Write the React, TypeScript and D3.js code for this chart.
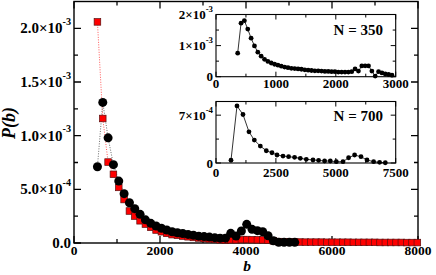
import React from "react";
import * as d3 from "d3";

// main panel: P(b) for the two series (values in units of 1e-4)
const redB = [545, 669, 793, 917, 1041, 1165, 1289, 1413, 1537, 1661, 1785, 1909, 2033, 2157, 2281, 2405, 2529, 2653, 2777, 2901, 3025, 3149, 3273, 3397, 3521, 3645, 3769, 3893, 4017, 4141, 4265, 4389, 4513, 4637, 4761, 4885, 5009, 5133, 5257, 5381, 5505, 5629, 5753, 5877, 6001, 6125, 6249, 6373, 6497, 6621, 6745, 6869, 6993, 7117, 7241, 7365, 7489, 7613, 7737, 7861, 7985];
const redP = [20.6, 11.6, 7.54, 6.4, 5.18, 4.05, 2.98, 2.51, 2.07, 1.76, 1.46, 1.21, 1.05, 0.9, 0.78, 0.72, 0.65, 0.58, 0.52, 0.47, 0.42, 0.38, 0.34, 0.3, 0.28, 0.3, 0.3, 0.32, 0.32, 0.31, 0.3, 0.29, 0.26, 0.2, 0.13, 0.1, 0.09, 0.09, 0.09, 0.08, 0.08, 0.08, 0.08, 0.07, 0.07, 0.07, 0.07, 0.07, 0.06, 0.06, 0.06, 0.06, 0.06, 0.05, 0.05, 0.05, 0.05, 0.05, 0.04, 0.04, 0.04];

const blackB = [545, 669, 793, 917, 1041, 1165, 1289, 1413, 1537, 1661, 1785, 1909, 2033, 2157, 2281, 2405, 2529, 2653, 2777, 2901, 3025, 3149, 3273, 3397, 3521, 3645, 3769, 3893, 4017, 4141, 4265, 4389, 4513, 4637, 4761, 4885, 5009, 5133];
const blackP = [7.1, 13.1, 9.8, 7.3, 5.77, 4.6, 3.75, 3.2, 2.67, 2.16, 1.83, 1.58, 1.37, 1.21, 1.05, 0.96, 0.88, 0.8, 0.72, 0.64, 0.6, 0.55, 0.5, 0.45, 0.45, 0.9, 0.65, 1.12, 1.74, 1.27, 1.15, 1.05, 0.68, 0.21, 0.07, 0.06, 0.06, 0.06];

// inset N = 350 (units of 1e-3)
const n350B = [362, 418, 474, 530, 586, 642, 698, 754, 810, 866, 922, 978, 1034, 1090, 1146, 1202, 1258, 1314, 1370, 1426, 1482, 1538, 1594, 1650, 1706, 1762, 1818, 1874, 1930, 1986, 2042, 2098, 2154, 2210, 2266, 2322, 2378, 2434, 2490, 2546, 2602, 2658, 2714, 2770, 2826, 2882, 2938];
const n350P = [0.755, 1.72, 1.8, 1.53, 1.24, 0.99, 0.79, 0.66, 0.56, 0.49, 0.44, 0.4, 0.37, 0.34, 0.31, 0.29, 0.27, 0.26, 0.25, 0.24, 0.22, 0.21, 0.2, 0.19, 0.19, 0.18, 0.17, 0.17, 0.16, 0.16, 0.15, 0.15, 0.15, 0.15, 0.16, 0.25, 0.18, 0.345, 0.35, 0.345, 0.18, 0.02, 0.16, 0.12, 0.09, 0.07, 0.05];

// inset N = 700 (units of 1e-4)
const n700B = [626, 876, 1126, 1376, 1600, 1850, 2099, 2337, 2546, 2796, 3030, 3280, 3518, 3769, 4048, 4282, 4532, 4770, 5021, 5300, 5534, 5785, 6052, 6302, 6578, 6828, 7066];
const n700P = [0.4, 8.35, 7.1, 4.56, 3.35, 2.48, 1.79, 1.5, 1.17, 1.02, 0.92, 0.83, 0.69, 0.54, 0.44, 0.39, 0.29, 0.29, 0.19, 0.19, 0.77, 1.17, 0.92, 0.44, 0.19, 0.1, 0.04];

// tick labels: [base, exponent]
const mainXTicks = [0, 2000, 4000, 6000, 8000];
const mainYTicks = [0, 5e-4, 1e-3, 1.5e-3, 2e-3];
const mainYLabels = [["0.0", ""], ["5.0×10", "-4"], ["1.0×10", "-3"], ["1.5×10", "-3"], ["2.0×10", "-3"]];
const in1XTicks = [0, 1000, 2000, 3000];
const in1YTicks = [0, 1e-3, 2e-3];
const in1YLabels = [["0", ""], ["1×10", "-3"], ["2×10", "-3"]];
const in2XTicks = [0, 2500, 5000, 7500];
const in2YTicks = [0, 7e-4];
const in2YLabels = [["0", ""], ["7×10", "-4"]];

const FONT = "'Liberation Serif', 'DejaVu Serif', serif";

type Sc = d3.ScaleLinear<number, number>;

const Frame = ({ x, y, xMajor, xMinor, yMajor, yMinor, maj, min, sw }: {
  x: Sc; y: Sc; xMajor: number[]; xMinor: number[]; yMajor: number[]; yMinor: number[]; maj: number; min: number; sw: number;
}) => {
  const [x0, x1] = x.range();
  const [y0, y1] = y.range(); // y0 bottom, y1 top
  const seg: string[] = [];
  xMajor.forEach((v) => seg.push(`M${x(v)},${y0}v${-maj}M${x(v)},${y1}v${maj}`));
  xMinor.forEach((v) => seg.push(`M${x(v)},${y0}v${-min}M${x(v)},${y1}v${min}`));
  yMajor.forEach((v) => seg.push(`M${x0},${y(v)}h${maj}M${x1},${y(v)}h${-maj}`));
  yMinor.forEach((v) => seg.push(`M${x0},${y(v)}h${min}M${x1},${y(v)}h${-min}`));
  return (
    <g>
      <rect x={x0} y={y1} width={x1 - x0} height={y0 - y1} fill="white" stroke="black" strokeWidth={sw} />
      <path d={seg.join("")} stroke="black" strokeWidth={sw * 0.9} fill="none" />
    </g>
  );
};

const SupLabel = ({ x, y, base, exp, size, anchor }: { x: number; y: number; base: string; exp: string; size: number; anchor: string }) => (
  <text x={x} y={y} textAnchor={anchor} fontFamily={FONT} fontWeight="bold" fontSize={size}>
    <tspan>{base}</tspan>
    {exp && (
      <tspan dy={-size * 0.55} fontSize={size * 0.68}>
        {exp}
      </tspan>
    )}
  </text>
);

export default function App() {
  const W = 436;
  const H = 275;

  // main panel scales
  const x = d3.scaleLinear().domain([0, 8000]).range([74, 418]);
  const y = d3.scaleLinear().domain([0, 2.25e-3]).range([243, 1.5]);

  // insets
  const x1 = d3.scaleLinear().domain([0, 3000]).range([216, 395.7]);
  const y1 = d3.scaleLinear().domain([0, 2e-3]).range([76.7, 14.5]);
  const x2 = d3.scaleLinear().domain([0, 7500]).range([216, 395.7]);
  const y2 = d3.scaleLinear().domain([0, 9e-4]).range([163, 101.5]);

  const red = redB.map((b, i) => [b, redP[i] * 1e-4] as [number, number]);
  const black = blackB.map((b, i) => [b, blackP[i] * 1e-4] as [number, number]);
  const s350 = n350B.map((b, i) => [b, n350P[i] * 1e-3] as [number, number]);
  const s700 = n700B.map((b, i) => [b, n700P[i] * 1e-4] as [number, number]);

  const mainLine = d3.line<[number, number]>().x((d) => x(d[0])).y((d) => y(d[1]));
  const line1 = d3.line<[number, number]>().x((d) => x1(d[0])).y((d) => y1(d[1]));
  const line2 = d3.line<[number, number]>().x((d) => x2(d[0])).y((d) => y2(d[1]));

  const sq = 6.6;

  return (
    <svg width={W} height={H} style={{ position: "absolute", left: 0, top: 0, background: "white" }}>
      <Frame x={x} y={y} xMajor={mainXTicks} xMinor={d3.range(1000, 8000, 2000)}
        yMajor={mainYTicks} yMinor={d3.range(2.5e-4, 2.25e-3, 5e-4)} maj={7} min={4} sw={1.4} />

      {/* main data */}
      <path d={mainLine(red) ?? ""} fill="none" stroke="#ff3030" strokeWidth={0.8} strokeDasharray="1,1.5" />
      <path d={mainLine(black) ?? ""} fill="none" stroke="#444" strokeWidth={0.8} strokeDasharray="1,1.5" />
      {red.map((d, i) => (
        <rect key={"r" + i} x={x(d[0]) - sq / 2} y={y(d[1]) - sq / 2} width={sq} height={sq}
          fill="#ff0000" stroke="#5a1010" strokeWidth={0.7} />
      ))}
      {black.map((d, i) => (
        <circle key={"b" + i} cx={x(d[0])} cy={y(d[1])} r={4.5} fill="black" />
      ))}

      {/* main tick labels */}
      {mainXTicks.map((v) => (
        <SupLabel key={"mx" + v} x={x(v)} y={254.5} base={String(v)} exp="" size={13.5} anchor="middle" />
      ))}
      {mainYTicks.map((v, i) => (
        <SupLabel key={"my" + i} x={71} y={y(v) + 5} base={mainYLabels[i][0]} exp={mainYLabels[i][1]} size={15} anchor="end" />
      ))}
      <text x={247} y={271} textAnchor="middle" fontFamily={FONT} fontWeight="bold" fontStyle="italic" fontSize={15.5}>b</text>
      <text transform="translate(15,123) rotate(-90)" textAnchor="middle" fontFamily={FONT} fontWeight="bold" fontStyle="italic" fontSize={18}>P(b)</text>

      {/* inset N = 350 */}
      <Frame x={x1} y={y1} xMajor={in1XTicks} xMinor={[500, 1500, 2500]} yMajor={in1YTicks} yMinor={[5e-4, 1.5e-3]} maj={5} min={3} sw={1.1} />
      <path d={line1(s350) ?? ""} fill="none" stroke="black" strokeWidth={0.8} />
      {s350.map((d, i) => (
        <circle key={"a" + i} cx={x1(d[0])} cy={y1(d[1])} r={2.4} fill="black" />
      ))}
      {in1XTicks.map((v) => (
        <SupLabel key={"ix1" + v} x={x1(v)} y={88} base={String(v)} exp="" size={13} anchor="middle" />
      ))}
      {in1YTicks.map((v, i) => (
        <SupLabel key={"iy1" + i} x={213} y={y1(v) + 4.5} base={in1YLabels[i][0]} exp={in1YLabels[i][1]} size={13} anchor="end" />
      ))}
      <text x={383} y={35} textAnchor="end" fontFamily={FONT} fontWeight="bold" fontSize={15}>N = 350</text>

      {/* inset N = 700 */}
      <Frame x={x2} y={y2} xMajor={in2XTicks} xMinor={[1250, 3750, 6250]} yMajor={in2YTicks} yMinor={[3.5e-4]} maj={5} min={3} sw={1.1} />
      <path d={line2(s700) ?? ""} fill="none" stroke="black" strokeWidth={0.8} />
      {s700.map((d, i) => (
        <circle key={"c" + i} cx={x2(d[0])} cy={y2(d[1])} r={2.4} fill="black" />
      ))}
      {in2XTicks.map((v) => (
        <SupLabel key={"ix2" + v} x={x2(v)} y={177} base={String(v)} exp="" size={13} anchor="middle" />
      ))}
      {in2YTicks.map((v, i) => (
        <SupLabel key={"iy2" + i} x={213} y={y2(v) + 4.5} base={in2YLabels[i][0]} exp={in2YLabels[i][1]} size={13} anchor="end" />
      ))}
      <text x={383} y={121} textAnchor="end" fontFamily={FONT} fontWeight="bold" fontSize={15}>N = 700</text>
    </svg>
  );
}
